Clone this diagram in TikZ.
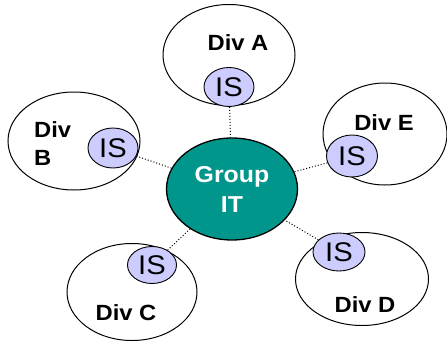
\documentclass[tikz,border=0pt]{standalone}
\usepackage{fontspec}
\setmainfont{Liberation Sans}
\usetikzlibrary{shapes.geometric}
\definecolor{groupteal}{RGB}{0,150,140}
\definecolor{islilac}{RGB}{204,204,255}
% slightly widened lettering
\newcommand{\widen}[1]{\scalebox{1.08}[1]{#1}}
\tikzset{
  division/.style={draw=black, line width=1pt, fill=white, ellipse, inner sep=0pt},
  isunit/.style={draw=black, line width=0.9pt, fill=islilac, ellipse, inner sep=0pt,
    font=\fontsize{27}{28}\selectfont},
  hub/.style={draw=black, line width=1.3pt, fill=groupteal, ellipse, inner sep=0pt,
    text=white, align=center, font=\fontsize{23}{30}\selectfont\bfseries},
  divlabel/.style={inner sep=0pt, font=\fontsize{22}{28}\selectfont\bfseries},
  link/.style={dotted, line width=1pt}
}
\begin{document}
\begin{tikzpicture}[x=1pt, y=-1pt]
\useasboundingbox (0,0) rectangle (447,343);

% division ellipses
\node[division, minimum width=132pt, minimum height=101pt] (divA) at (229,55) {};
\node[division, minimum width=132pt, minimum height=98pt]  (divB) at (74,141) {};
\node[division, minimum width=124pt, minimum height=102pt] (divE) at (385,134) {};
\node[division, minimum width=130pt, minimum height=97pt]  (divC) at (132,292) {};
\node[division, minimum width=133pt, minimum height=93pt]  (divD) at (362,279) {};

% central group
\node[hub, minimum width=131pt, minimum height=102pt] (group) at (232,189) {\widen{Group}\\\widen{IT}};

% IS units
\node[isunit, minimum width=50pt, minimum height=39pt] (isA) at (229,87) {\widen{IS}};
\node[isunit, minimum width=50pt, minimum height=40pt] (isB) at (113,148) {\widen{IS}};
\node[isunit, minimum width=51pt, minimum height=42pt] (isE) at (352,156) {\widen{IS}};
\node[isunit, minimum width=49pt, minimum height=37pt] (isC) at (152,265) {\widen{IS}};
\node[isunit, minimum width=52pt, minimum height=38pt] (isD) at (339,252) {\widen{IS}};

% dotted links from each IS unit to the group
\draw[link] (isA) -- (group);
\draw[link] (isB) -- (group);
\draw[link] (isE) -- (group);
\draw[link] (isC) -- (group);
\draw[link] (isD) -- (group);

% division labels
\node[divlabel] (labA) at (238,43) {\widen{Div A}};
\node[divlabel, anchor=west, align=left] (labB) at (34,144) {\widen{Div}\\\widen{B}};
\node[divlabel] (labE) at (384,123) {\widen{Div E}};
\node[divlabel] (labC) at (126,313) {\widen{Div C}};
\node[divlabel] (labD) at (365,305) {\widen{Div D}};
\end{tikzpicture}
\end{document}
